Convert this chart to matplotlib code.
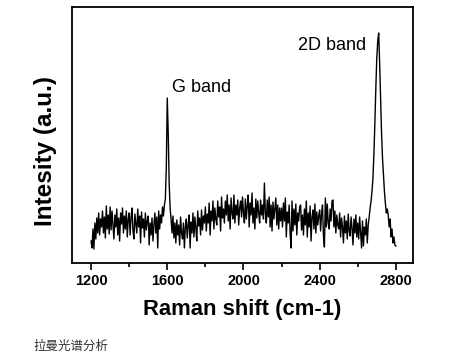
import numpy as np
import matplotlib
matplotlib.use('Agg')
import matplotlib.pyplot as plt
from matplotlib.ticker import MultipleLocator

# Raman shift grid (cm-1) and intensity (a.u.)
shift = np.arange(1200, 2805, 5)
intensity = [
    22, 15, 34, 14, 40, 24, 45, 30, 50, 28, 44, 36, 52, 30, 46, 25, 57, 34, 48, 29,
    56, 33, 52, 38, 24, 48, 36, 54, 28, 45, 22, 50, 39, 55, 30, 47, 34, 52, 26, 44,
    50, 28, 46, 55, 32, 24, 49, 40, 30, 54, 36, 47, 20, 51, 35, 44, 26, 50, 33, 42,
    47, 18, 40, 28, 45, 22, 38, 50, 30, 46, 15, 52, 34, 48, 40, 56, 47, 58, 64, 95,
    165, 130, 80, 55, 44, 30, 47, 25, 40, 20, 43, 28, 38, 18, 46, 30, 24, 40, 15, 36,
    44, 25, 38, 48, 15, 41, 30, 50, 26, 46, 35, 22, 52, 37, 45, 28, 53, 33, 47, 40,
    56, 32, 49, 40, 60, 28, 52, 42, 62, 34, 55, 44, 38, 62, 46, 56, 32, 66, 45, 54,
    40, 62, 48, 68, 42, 58, 34, 65, 50, 44, 68, 40, 58, 48, 63, 38, 55, 62, 46, 66,
    50, 40, 64, 44, 57, 68, 36, 60, 48, 70, 40, 55, 34, 64, 45, 62, 50, 40, 63, 48,
    58, 44, 80, 50, 40, 63, 46, 66, 36, 58, 32, 61, 44, 54, 65, 38, 58, 34, 55, 42,
    55, 36, 60, 42, 65, 26, 51, 40, 58, 30, 15, 62, 32, 54, 38, 59, 28, 50, 42, 56,
    58, 33, 48, 28, 54, 38, 62, 26, 50, 36, 57, 22, 46, 53, 34, 59, 30, 51, 38, 47,
    53, 32, 49, 58, 27, 16, 65, 36, 59, 40, 34, 54, 42, 62, 63, 36, 52, 30, 48, 38,
    34, 50, 26, 45, 36, 20, 47, 30, 42, 24, 49, 32, 27, 46, 35, 18, 44, 30, 48, 26,
    40, 24, 46, 30, 15, 42, 17, 36, 28, 44, 20, 38, 46, 55, 62, 72, 85, 110, 140, 175,
    205, 222, 230, 200, 165, 130, 105, 88, 72, 60, 50, 54, 48, 36, 44, 26, 34, 20, 26, 18,
    17,
]
xticks = [1200, 1600, 2000, 2400, 2800]
peak_labels = ["G band", "2D band"]
peak_label_pos = [(1625, 171), (2286, 213)]

plt.rcParams['font.family'] = ['Liberation Sans', 'DejaVu Sans']

fig = plt.figure(figsize=(4.76, 3.61), dpi=100)
ax = fig.add_axes([0.1513, 0.2715, 0.7163, 0.7091])

ax.plot(shift, intensity, color="black", lw=1.0)

ax.set_xlim(1100, 2890)
ax.set_ylim(0, 256)
ax.set_yticks([])
ax.set_xticks(xticks)
ax.xaxis.set_minor_locator(MultipleLocator(200))
ax.tick_params(axis="x", which="major", direction="out", length=5, width=1.2, pad=3)
ax.tick_params(axis="x", which="minor", direction="out", length=3, width=1.2)
for lab in ax.get_xticklabels():
    lab.set_fontsize(10.5)
    lab.set_fontweight("bold")
for sp in ax.spines.values():
    sp.set_linewidth(1.3)

for text, (tx, ty) in zip(peak_labels, peak_label_pos):
    ax.text(tx, ty, text, fontsize=13, ha="left", va="baseline")

ax.set_xlabel("Raman shift (cm-1)", fontsize=15.8, fontweight="bold", labelpad=8)
ax.set_ylabel("Intesity (a.u.)", fontsize=17.5, fontweight="bold")
ax.yaxis.set_label_coords(-0.045, 0.4375)

fig.text(33 / 476, 1 - 346 / 361, "拉曼光谱分析", fontsize=9, color="#333333",
         family=["Noto Sans CJK SC", "DejaVu Sans"], va="center", ha="left")

fig.savefig("out.png", dpi=100)
